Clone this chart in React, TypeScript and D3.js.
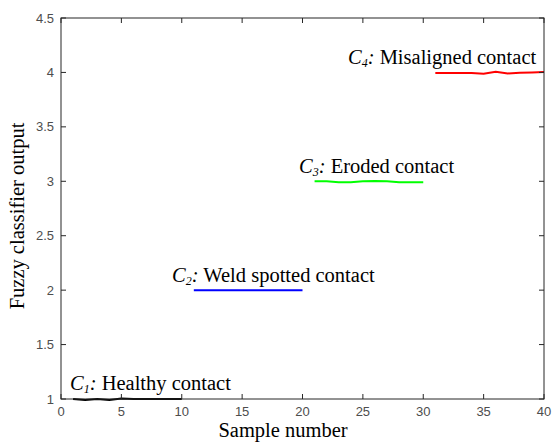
import React from "react";
import * as d3 from "d3";

const xTicks = [0, 5, 10, 15, 20, 25, 30, 35, 40];
const yTicks = [1, 1.5, 2, 2.5, 3, 3.5, 4, 4.5];

const c1Samples = [1, 2, 3, 4, 5, 6, 7, 8, 9, 10];
const c1Values = [1.0, 0.99, 1.0, 0.99, 1.005, 1.0, 1.0, 1.0, 1.0, 1.0];
const c2Samples = [11, 12, 13, 14, 15, 16, 17, 18, 19, 20];
const c2Values = [2.0, 2.0, 2.0, 2.0, 2.0, 2.0, 2.0, 2.0, 2.0, 2.0];
const c3Samples = [21, 22, 23, 24, 25, 26, 27, 28, 29, 30];
const c3Values = [3.0, 3.0, 2.992, 2.992, 3.0, 3.003, 3.0, 2.992, 2.992, 2.992];
const c4Samples = [31, 32, 33, 34, 35, 36, 37, 38, 39, 40];
const c4Values = [3.995, 3.995, 3.995, 3.995, 3.988, 4.007, 3.99, 3.998, 4.0, 4.003];

const series = [
  { name: "C1", sub: "1", label: "Healthy contact", xs: c1Samples, ys: c1Values, color: "#000000", lx: 70, ly: 1.14 },
  { name: "C2", sub: "2", label: "Weld spotted contact", xs: c2Samples, ys: c2Values, color: "#0000ff", lx: 172, ly: 2.13 },
  { name: "C3", sub: "3", label: "Eroded contact", xs: c3Samples, ys: c3Values, color: "#00ff00", lx: 299, ly: 3.13 },
  { name: "C4", sub: "4", label: "Misaligned contact", xs: c4Samples, ys: c4Values, color: "#ff0000", lx: 348, ly: 4.13 },
];

const serif = "Liberation Serif, Tinos, Times New Roman, Times, DejaVu Serif, Noto Serif, serif";
const sans = "Liberation Sans, Arial, sans-serif";

export default function App() {
  const W = 553, H = 442;
  const left = 61, right = 544, top = 18, bottom = 399;
  const x = d3.scaleLinear().domain([0, 40]).range([left, right]);
  const y = d3.scaleLinear().domain([1, 4.5]).range([bottom, top]);
  const line = d3.line<[number, number]>().x(d => x(d[0])).y(d => y(d[1]));
  const axisColor = "#262626";
  const tickColor = "#4d4d4d";
  const tl = 5;
  const fs = 20.5;
  return (
    <svg width={W} height={H} style={{ position: "absolute", left: 0, top: 0, background: "#fff" }}>
      <rect x={0} y={0} width={W} height={H} fill="#fff" />
      {series.map(s => (
        <path key={s.name} d={line(s.xs.map((v, i) => [v, s.ys[i]] as [number, number])) || ""}
          fill="none" stroke={s.color} strokeWidth={2} />
      ))}
      <rect x={left} y={top} width={right - left} height={bottom - top} fill="none" stroke={axisColor} strokeWidth={1} />
      {xTicks.map(t => (
        <g key={"x" + t}>
          <line x1={x(t)} x2={x(t)} y1={bottom} y2={bottom - tl} stroke={axisColor} />
          <line x1={x(t)} x2={x(t)} y1={top} y2={top + tl} stroke={axisColor} />
          <text x={x(t)} y={bottom + 17} textAnchor="middle" fontFamily={sans} fontSize={13} fill={tickColor}>{t}</text>
        </g>
      ))}
      {yTicks.map(t => (
        <g key={"y" + t}>
          <line x1={left} x2={left + tl} y1={y(t)} y2={y(t)} stroke={axisColor} />
          <line x1={right} x2={right - tl} y1={y(t)} y2={y(t)} stroke={axisColor} />
          <text x={left - 7} y={y(t) + 4.5} textAnchor="end" fontFamily={sans} fontSize={13} fill={tickColor}>{t}</text>
        </g>
      ))}
      {series.map(s => (
        <text key={"l" + s.name} x={s.lx} y={y(s.ly) + 6} fontFamily={serif} fontSize={fs} fill="#000">
          <tspan fontStyle="italic">C</tspan>
          <tspan fontStyle="italic" fontSize={12} dy={3}>{s.sub}</tspan>
          <tspan fontStyle="italic" dy={-3}>:</tspan>
          <tspan> {s.label}</tspan>
        </text>
      ))}
      <text x={283} y={437} textAnchor="middle" fontFamily={serif} fontSize={fs} fill="#000">Sample number</text>
      <text transform={`translate(24, 216) rotate(-90)`} textAnchor="middle" fontFamily={serif} fontSize={fs} fill="#000">Fuzzy classifier output</text>
    </svg>
  );
}
